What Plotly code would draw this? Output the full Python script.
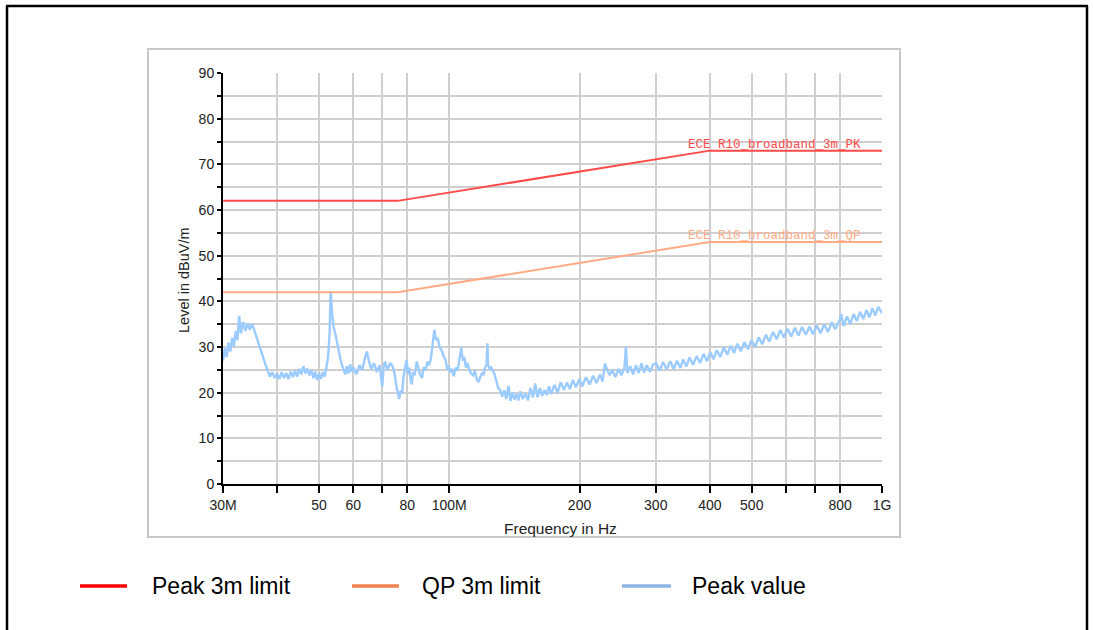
import plotly.graph_objects as go

# ---------------- data ----------------
limit_freq_mhz = [30, 76, 400, 1000]
peak_limit_db = [62, 62, 73, 73]
qp_limit_db = [42, 42, 53, 53]

peak_freq_mhz = [
    30.0, 30.3, 30.6, 30.9, 31.2, 31.5, 31.8, 32.1, 32.4, 32.7, 33.0, 33.4, 33.8, 34.2, 34.6, 35.0,
    35.2, 35.6, 36.0, 36.5, 37.0, 37.5, 38.0, 38.5, 39.0, 39.5, 40.0, 40.5, 41.0, 41.5, 42.0, 42.5,
    43.0, 43.5, 44.0, 44.5, 45.0, 45.5, 46.0, 46.5, 47.0, 47.5, 48.0, 48.5, 49.0, 49.5, 50.0, 50.5,
    51.0, 51.5, 52.0, 52.5, 52.9, 53.2, 53.6, 54.0, 54.5, 55.0, 55.5, 56.0, 56.5, 57.0, 57.5, 58.0,
    58.5, 59.0, 59.5, 60.0, 61.0, 62.0, 63.0, 63.8, 64.5, 65.2, 66.0, 67.0, 68.0, 69.0, 69.5, 70.0,
    70.5, 71.0, 72.0, 73.0, 74.0, 74.8, 75.6, 76.2, 76.6, 77.2, 77.8, 78.4, 79.0, 79.7, 80.3, 80.9,
    81.5, 81.9, 82.5, 83.2, 84.1, 84.8, 85.6, 86.5, 87.3, 88.2, 89.0, 89.8, 90.7, 91.5, 92.4, 93.2,
    94.0, 95.0, 96.0, 97.0, 98.0, 99.0, 99.6, 100.5, 101.5, 102.4, 103.5, 104.5, 105.5, 106.6, 107.5, 108.4,
    109.2, 110.2, 111.2, 112.3, 113.5, 114.6, 115.7, 116.8, 118.0, 119.0, 120.0, 121.0, 122.0, 122.5, 123.0, 124.0,
    125.0, 126.2, 127.3, 128.5, 129.8, 131.1, 132.5, 134.0, 135.5, 137.0, 138.5, 140.0, 141.5, 143.0, 144.5, 146.0,
    148.0, 150.0, 152.0, 154.0, 156.0, 158.0, 160.0, 162.0, 164.0, 166.0, 168.0, 170.0, 172.0, 175.0, 178.0, 181.0,
    184.0, 187.0, 190.0, 193.0, 196.0, 200.0, 203.0, 207.0, 211.0, 215.0, 219.0, 223.0, 226.0, 229.0, 232.0, 235.0,
    238.0, 242.0, 246.0, 250.0, 254.0, 256.0, 258.0, 262.0, 266.0, 270.0, 274.0, 278.0, 282.0, 286.0, 291.0, 296.0,
    301.0, 306.0, 312.0, 318.0, 324.0, 330.0, 336.0, 342.0, 347.0, 353.0, 359.0, 366.0, 373.0, 380.0, 387.0, 394.0,
    401.0, 408.0, 415.0, 423.0, 431.0, 439.0, 447.0, 455.0, 463.0, 472.0, 481.0, 490.0, 499.0, 509.0, 519.0, 529.0,
    539.0, 549.0, 560.0, 571.0, 582.0, 593.0, 605.0, 617.0, 629.0, 641.0, 654.0, 667.0, 680.0, 693.0, 707.0, 721.0,
    735.0, 750.0, 765.0, 780.0, 800.0, 805.0, 815.0, 830.0, 845.0, 860.0, 875.0, 890.0, 905.0, 920.0, 935.0, 950.0,
    965.0, 980.0, 1000.0,
]
peak_level_db = [
    27.0, 29.8, 27.8, 31.0, 29.0, 32.0, 30.2, 33.5, 31.5, 36.8, 33.0, 35.5, 33.5, 35.2, 33.8, 35.0,
    34.5, 33.0, 32.0, 30.0, 28.0, 26.5, 25.0, 23.5, 24.5, 23.2, 24.2, 23.0, 24.5, 23.2, 24.3, 23.0,
    24.6, 23.4, 24.8, 23.5, 25.2, 24.0, 25.8, 24.2, 25.3, 23.8, 25.0, 23.2, 24.6, 22.8, 24.2, 23.0,
    24.5, 23.5, 25.5, 28.0, 33.0, 42.2, 37.5, 34.5, 33.0, 31.0, 29.5, 27.5, 26.0, 25.0, 24.0, 25.8,
    24.2, 26.2, 24.5, 25.6, 24.0, 26.0, 25.0, 27.5, 29.0, 27.0, 25.2, 26.5, 24.5, 26.0, 23.0, 21.3,
    25.5, 26.8, 25.0, 26.5, 25.8, 24.0, 21.0, 19.5, 18.6, 20.5, 19.8, 23.5, 25.0, 27.2, 24.0, 25.5,
    22.5, 21.8, 24.5, 23.8, 26.8, 25.2, 24.0, 23.2, 25.6, 25.0, 26.8, 26.0, 27.5, 30.5, 33.8, 31.5,
    32.0, 30.0, 29.3, 28.0, 27.2, 25.0, 26.0, 24.5, 25.2, 23.6, 25.5, 24.8, 27.5, 29.8, 27.0, 27.8,
    25.5, 26.5, 25.0, 24.2, 23.8, 24.8, 23.0, 22.3, 23.5, 24.2, 24.0, 25.5, 26.2, 30.8, 26.0, 25.2,
    25.5, 24.6, 24.0, 22.5, 21.0, 20.6, 19.2, 20.5, 18.6, 21.5, 18.2, 20.0, 18.5, 19.8, 18.3, 20.3,
    18.6, 19.8, 18.3, 21.0, 19.0, 22.0, 19.0, 21.0, 19.3, 20.6, 19.5, 21.4, 19.7, 21.7, 20.0, 22.3,
    20.6, 22.2, 20.8, 22.8, 21.2, 23.0, 21.4, 23.4, 21.8, 23.7, 22.1, 24.0, 22.4, 26.4, 24.8, 23.8,
    25.0, 23.4, 25.2, 23.8, 25.4, 30.1, 24.3, 25.8, 24.0, 26.0, 24.3, 26.4, 24.4, 26.0, 24.6, 26.2,
    26.4, 24.8, 26.7, 25.1, 26.9, 25.2, 27.0, 25.4, 27.3, 25.7, 27.7, 26.1, 28.0, 26.5, 28.5, 26.9,
    28.9, 27.3, 29.3, 27.8, 29.9, 28.3, 30.3, 28.7, 30.7, 29.1, 31.1, 29.5, 31.5, 30.0, 32.1, 30.6,
    32.7, 31.2, 33.3, 31.7, 33.7, 32.1, 34.0, 32.3, 34.2, 32.5, 34.4, 32.7, 34.5, 32.8, 34.7, 33.0,
    34.9, 33.3, 35.4, 33.9, 36.1, 37.2, 34.6, 36.7, 35.1, 37.2, 35.7, 37.7, 36.1, 38.1, 36.5, 38.5,
    36.9, 38.8, 37.4,
]

y_tick_vals = [0, 5, 10, 15, 20, 25, 30, 35, 40, 45, 50, 55, 60, 65, 70, 75, 80, 85, 90]
y_tick_text = ["0", "", "10", "", "20", "", "30", "", "40", "", "50", "", "60", "", "70", "", "80", "", "90"]
x_tick_vals = [30, 40, 50, 60, 70, 80, 100, 200, 300, 400, 500, 600, 700, 800, 1000]
x_tick_text = ["30M", "", "50", "60", "", "80", "100M", "200", "300", "400", "500", "", "", "800", "1G"]

pk_label = "ECE R10_broadband_3m_PK"
qp_label = "ECE R10_broadband_3m_QP"
legend_names = ["Peak 3m limit", "QP 3m limit", "Peak value"]
legend_colors = ["#ff0000", "#f0824f", "#8db4e3"]

# ---------------- layout constants ----------------
W, H = 1093, 630
L, R, T, B = 223, 882, 73, 484
PW, PH = R - L, B - T


def px(x):
    return (x - L) / PW


def py(y):
    return (B - y) / PH


peak_color = "#9ccbff"
pk_color = "#ff4a4a"
qp_color = "#ffab85"

fig = go.Figure()
fig.add_trace(go.Scatter(x=peak_freq_mhz, y=peak_level_db, mode="lines",
                         line=dict(color=peak_color, width=2.4), showlegend=False))
fig.add_trace(go.Scatter(x=limit_freq_mhz, y=qp_limit_db, mode="lines",
                         line=dict(color=qp_color, width=2), showlegend=False))
fig.add_trace(go.Scatter(x=limit_freq_mhz, y=peak_limit_db, mode="lines",
                         line=dict(color=pk_color, width=2), showlegend=False))

tick_font = dict(family="Liberation Sans, Arial, sans-serif", size=14, color="#222222")

fig.update_layout(
    width=W, height=H,
    margin=dict(l=L, r=W - R, t=T, b=H - B, pad=0),
    paper_bgcolor="white", plot_bgcolor="white",
    showlegend=False,
    xaxis=dict(type="log", range=[1.4771213, 3.0], tickmode="array",
               tickvals=x_tick_vals, ticktext=x_tick_text, ticks="outside",
               ticklen=7, tickwidth=2, tickcolor="black", showline=True,
               linecolor="black", linewidth=2, showgrid=True, gridcolor="#cfcfcf",
               gridwidth=2, tickfont=tick_font, zeroline=False),
    yaxis=dict(range=[0, 90], tickmode="array", tickvals=y_tick_vals,
               ticktext=y_tick_text, ticks="outside", ticklen=4, tickwidth=2,
               tickcolor="black", showline=True, linecolor="black", linewidth=2,
               showgrid=True, gridcolor="#cfcfcf", gridwidth=2, tickfont=tick_font,
               zeroline=False),
    yaxis2=dict(range=[0, 90], overlaying="y", side="left", anchor="x",
                tickmode="array", tickvals=y_tick_vals, ticks="inside", ticklen=7,
                tickwidth=2, tickcolor="black", showticklabels=False,
                showgrid=False, showline=False, zeroline=False),
)

annotations = [
    dict(text="Frequency in Hz", x=px(560), y=py(528), xref="paper", yref="paper",
         xanchor="center", yanchor="middle", showarrow=False,
         font=dict(family="Liberation Sans, Arial, sans-serif", size=15.5, color="#222")),
    dict(text="Level in dBuV/m", x=px(184), y=py(280), xref="paper", yref="paper",
         xanchor="center", yanchor="middle", showarrow=False, textangle=-90,
         font=dict(family="Liberation Sans, Arial, sans-serif", size=14.5, color="#222")),
    dict(text=pk_label, x=2.956, y=73, xref="x", yref="y", xanchor="right", yanchor="bottom",
         showarrow=False, yshift=-3,
         font=dict(family="Liberation Mono, Courier New, monospace", size=12.5, color=pk_color)),
    dict(text=qp_label, x=2.955, y=53, xref="x", yref="y", xanchor="right", yanchor="bottom",
         showarrow=False, yshift=-3,
         font=dict(family="Liberation Mono, Courier New, monospace", size=12.5, color=qp_color)),
]

shapes = [
    # inner grey frame
    dict(type="rect", xref="paper", yref="paper", x0=px(148), x1=px(900), y0=py(537), y1=py(49),
         line=dict(color="#c8c8c8", width=2), layer="below"),
    # outer black frame
    dict(type="line", xref="paper", yref="paper", x0=px(7), x1=px(7), y0=py(6), y1=py(700),
         line=dict(color="black", width=2.5)),
    dict(type="line", xref="paper", yref="paper", x0=px(1087), x1=px(1087), y0=py(6), y1=py(700),
         line=dict(color="black", width=2.5)),
    dict(type="line", xref="paper", yref="paper", x0=px(6), x1=px(1088), y0=py(6), y1=py(6),
         line=dict(color="black", width=2.5)),
]

legend_x = [(80, 127, 150), (352, 399, 420), (622, 671, 690)]
for (x0, x1, tx), name, col in zip(legend_x, legend_names, legend_colors):
    shapes.append(dict(type="line", xref="paper", yref="paper", x0=px(x0), x1=px(x1),
                       y0=py(586), y1=py(586), line=dict(color=col, width=3.5)))
    annotations.append(dict(text=name, x=px(tx), y=py(586), xref="paper", yref="paper",
                            xanchor="left", yanchor="middle", showarrow=False,
                            font=dict(family="Liberation Sans, Arial, sans-serif", size=23, color="black")))

fig.update_layout(annotations=annotations, shapes=shapes)
fig.write_html("out.html", config={"displayModeBar": False},
               post_script="document.body.style.margin='0px';")
